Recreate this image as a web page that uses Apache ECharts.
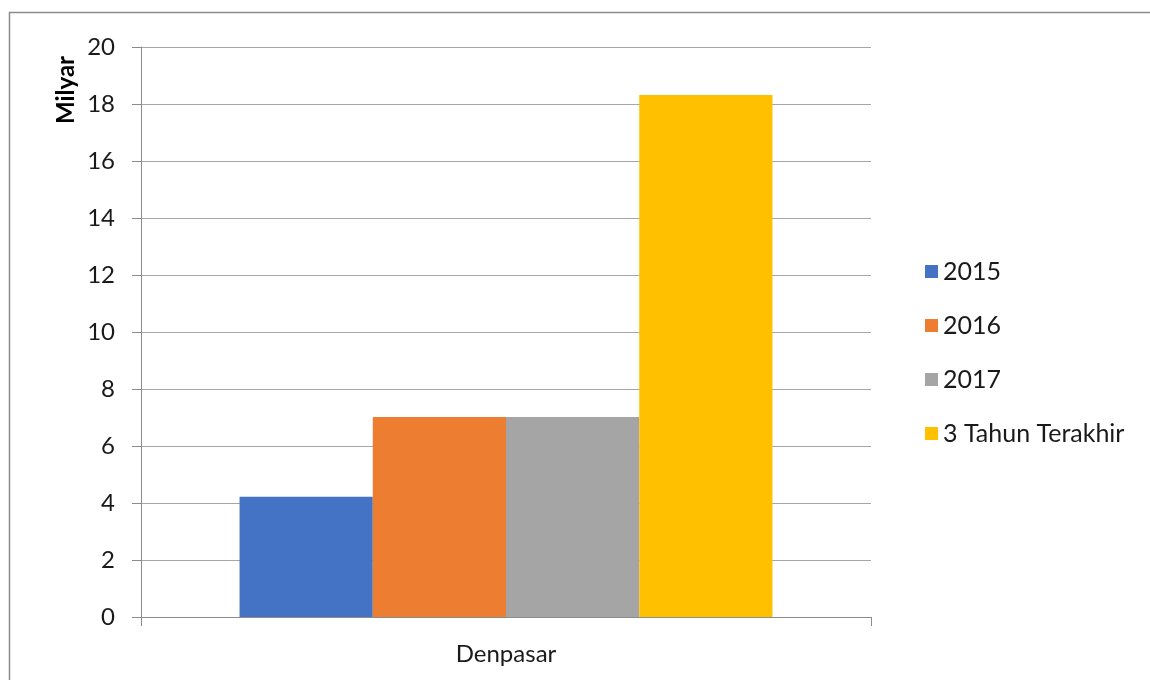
<!DOCTYPE html>
<html><head><meta charset="utf-8">
<script src="https://cdn.jsdelivr.net/npm/echarts@6/dist/echarts.min.js"></script>
<style>html,body{margin:0;padding:0;background:#fff}#c{width:1150px;height:680px}</style>
</head><body><div id="c"></div>
<script>
const categories = ['Denpasar'];
const seriesNames = ['2015', '2016', '2017', '3 Tahun Terakhir'];
const v2015 = [4.22];
const v2016 = [7.02];
const v2017 = [7.02];
const v3Tahun = [18.32];
const colors = ['#4472C4', '#ED7D31', '#A5A5A5', '#FFC000'];
const yTicks = [0, 2, 4, 6, 8, 10, 12, 14, 16, 18, 20];
const FONT = 'Lato';
const values = [v2015, v2016, v2017, v3Tahun];

const chart = echarts.init(document.getElementById('c'));
chart.setOption({
  animation: false,
  textStyle: { fontFamily: FONT },
  graphic: [
    { type: 'rect', shape: { x: 9.5, y: 12.5, width: 1200, height: 700 }, style: { fill: 'none', stroke: '#8c8c8c', lineWidth: 1.5 }, silent: true },
    { type: 'text', x: 66, y: 90, rotation: Math.PI / 2, style: { text: 'Milyar', font: 'bold 24px ' + FONT, fill: '#000', align: 'center', verticalAlign: 'middle' } }
  ],
  legend: {
    orient: 'vertical', left: 920, top: 254, itemGap: 29, itemWidth: 13, itemHeight: 13,
    icon: 'rect', data: seriesNames,
    textStyle: { fontSize: 25, lineHeight: 25, color: '#1a1a1a', fontFamily: FONT, padding: [0, 0, 0, 0] }
  },
  grid: { left: 141, right: 279, top: 47, bottom: 63, containLabel: false },
  xAxis: {
    type: 'category', data: categories,
    axisLine: { lineStyle: { color: '#8c8c8c', width: 1 } },
    axisTick: { show: true, length: 9, lineStyle: { color: '#8c8c8c' } },
    axisLabel: { fontSize: 24, color: '#1a1a1a', margin: 25, fontFamily: FONT }
  },
  yAxis: {
    type: 'value', min: 0, max: 20, interval: 2,
    axisLine: { show: true, lineStyle: { color: '#8c8c8c', width: 1 } },
    axisTick: { show: true, length: 9, lineStyle: { color: '#8c8c8c' } },
    splitLine: { lineStyle: { color: '#a6a6a6', width: 1 } },
    axisLabel: { fontSize: 24, color: '#1a1a1a', margin: 26, fontFamily: FONT,
      formatter: v => yTicks.includes(v) ? String(v) : '' }
  },
  series: seriesNames.map((n, i) => ({
    name: n, type: 'bar', data: values[i],
    barGap: '0%', barCategoryGap: '27%',
    itemStyle: { color: colors[i] }
  }))
});
</script></body></html>
